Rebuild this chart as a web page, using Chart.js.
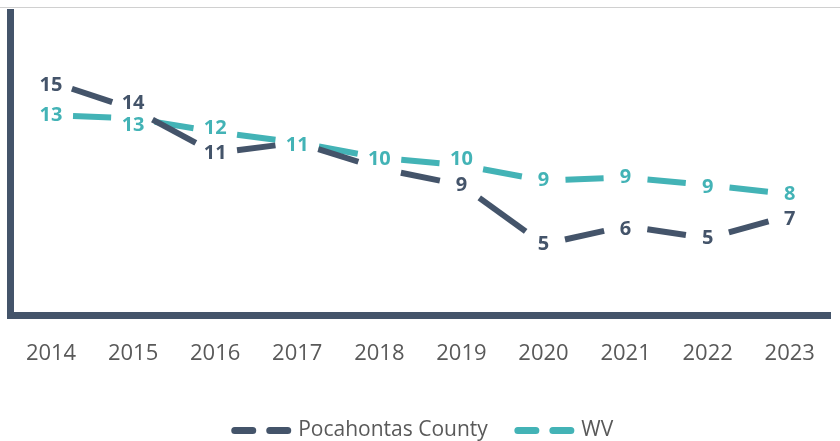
<!DOCTYPE html>
<html>
<head>
<meta charset="utf-8">
<script src="https://cdn.jsdelivr.net/npm/chart.js@4.4.1/dist/chart.umd.min.js"></script>
<style>
  html, body { margin: 0; padding: 0; background: #fff; }
  #wrap { width: 840px; height: 441px; position: relative; }
</style>
</head>
<body>
<div id="wrap"><canvas id="trend-chart"></canvas></div>
<script>
// data (labels show the rounded value)
var years = ['2014', '2015', '2016', '2017', '2018', '2019', '2020', '2021', '2022', '2023'];
var pocahontas = [15.4, 13.6, 10.7, 11.4, 9.7, 8.6, 4.7, 5.9, 5.1, 6.6];
var wv = [13.2, 13.0, 12.1, 11.4, 10.4, 9.9, 8.9, 9.1, 8.6, 8.0];

var $dark = '#44546A',
    $teal = '#43B3B6',
    $text = '#595959',
    $rule = '#D0D0D0';

var dashGap = 22; // blank space left round each point

// one dash per segment, centred between the two points
function segDash(ctx) {
  var len = Math.hypot(ctx.p1.x - ctx.p0.x, ctx.p1.y - ctx.p0.y);
  return [Math.max(len - 2 * dashGap, 0), 2 * dashGap];
}

var topRule = {
  id: 'topRule',
  beforeDraw: function (chart) {
    var ctx = chart.ctx;
    ctx.save();
    ctx.strokeStyle = $rule;
    ctx.lineWidth = 1;
    ctx.beginPath();
    ctx.moveTo(0, 7.5);
    ctx.lineTo(chart.width, 7.5);
    ctx.stroke();
    ctx.restore();
  }
};

var pointLabels = {
  id: 'pointLabels',
  afterDatasetsDraw: function (chart, args, opts) {
    var ctx = chart.ctx;
    ctx.save();
    ctx.font = opts.font;
    ctx.textAlign = 'center';
    ctx.textBaseline = 'middle';
    chart.data.datasets.forEach(function (ds, i) {
      var meta = chart.getDatasetMeta(i);
      var hide = opts.hide[i] || [];
      var nudge = opts.nudge[i] || [];
      meta.data.forEach(function (pt, j) {
        if (hide.indexOf(j) > -1) return;
        ctx.fillStyle = ds.borderColor;
        ctx.fillText(Math.round(ds.data[j]), pt.x, pt.y + (nudge[j] || 0));
      });
    });
    ctx.restore();
  }
};

var lineData = {
  labels: years,
  datasets: [{
    label: 'Pocahontas County',
    data: pocahontas,
    borderColor: $dark,
    backgroundColor: $dark,
    borderWidth: 6,
    fill: false,
    segment: { borderDash: segDash, borderDashOffset: -dashGap }
  }, {
    label: 'WV',
    data: wv,
    borderColor: $teal,
    backgroundColor: $teal,
    borderWidth: 6,
    fill: false,
    segment: { borderDash: segDash, borderDashOffset: -dashGap }
  }]
};

var lineOptions = {
  responsive: true,
  maintainAspectRatio: false,
  animation: false,
  layout: { padding: { top: 12, left: 10, right: 2, bottom: -10 } },
  elements: { point: { radius: 0, hoverRadius: 0 }, line: { tension: 0 } },
  scales: {
    x: {
      offset: true,
      grid: { display: false, drawTicks: false },
      border: { color: $dark, width: 7 },
      ticks: { color: $text, font: { family: 'Open Sans', size: 22 }, padding: 25 },
      afterFit: function (scale) { scale.height -= 2; }
    },
    y: {
      min: 0,
      max: 20,
      grid: { display: false, drawTicks: false },
      border: { color: $dark, width: 7 },
      ticks: { display: false }
    }
  },
  plugins: {
    tooltip: { enabled: false },
    legend: {
      position: 'bottom',
      labels: {
        color: $text,
        font: { family: 'Open Sans', size: 21 },
        usePointStyle: true,
        pointStyle: 'line',
        pointStyleWidth: 53,
        padding: 30,
        generateLabels: function (chart) {
          var items = Chart.defaults.plugins.legend.labels.generateLabels(chart);
          items.forEach(function (it) {
            it.lineDash = [18, 17];
            it.lineCap = 'round';
            it.lineWidth = 7;
            it.pointStyle = 'line';
          });
          return items;
        }
      }
    },
    pointLabels: {
      font: 'bold 20px "Open Sans"',
      hide: { 0: [3, 4] },
      nudge: {
        0: [3, -6, 0, 0, 0, 0, 0, 3, 0, 4],
        1: [0, 7, -4, 3, 2, -6, 0, 0, 2, 0]
      }
    }
  }
};

var trendChart = new Chart(document.getElementById('trend-chart'), {
  type: 'line',
  data: lineData,
  options: lineOptions,
  plugins: [topRule, pointLabels]
});
</script>
</body>
</html>
